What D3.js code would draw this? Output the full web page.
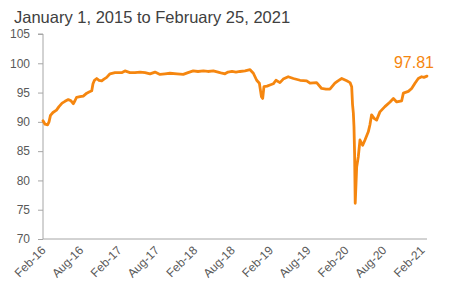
<!DOCTYPE html>
<html><head><meta charset="utf-8">
<script src="https://cdn.jsdelivr.net/npm/d3@7"></script>
<style>body{margin:0;background:#fff}svg{display:block}text{font-family:"Liberation Sans",Arial,sans-serif}</style>
</head><body>
<svg id="c" width="450" height="296"></svg>
<script>
const title = "January 1, 2015 to February 25, 2021";
const dates = ["2016-02-01","2016-02-11","2016-02-23","2016-03-01","2016-03-08","2016-03-20","2016-04-06","2016-04-18","2016-05-03","2016-05-17","2016-06-02","2016-06-15","2016-06-26","2016-07-04","2016-07-12","2016-07-28","2016-08-13","2016-08-30","2016-09-10","2016-09-23","2016-09-29","2016-10-06","2016-10-17","2016-10-28","2016-11-10","2016-11-21","2016-12-04","2016-12-20","2017-01-13","2017-02-14","2017-03-02","2017-03-26","2017-04-19","2017-05-14","2017-06-07","2017-07-01","2017-07-25","2017-08-18","2017-09-11","2017-10-05","2017-11-08","2017-12-08","2017-12-31","2018-01-25","2018-02-17","2018-03-15","2018-04-06","2018-05-02","2018-05-25","2018-06-13","2018-06-27","2018-07-12","2018-07-31","2018-08-19","2018-09-08","2018-10-02","2018-10-26","2018-11-11","2018-11-27","2018-12-10","2018-12-16","2018-12-20","2018-12-26","2019-01-01","2019-01-16","2019-01-30","2019-02-15","2019-02-28","2019-03-19","2019-04-04","2019-04-28","2019-05-23","2019-06-24","2019-07-26","2019-08-11","2019-09-12","2019-10-06","2019-10-27","2019-11-15","2019-12-09","2019-12-24","2020-01-11","2020-02-04","2020-02-20","2020-02-28","2020-03-03","2020-03-07","2020-03-10","2020-03-13","2020-03-16","2020-03-23","2020-03-31","2020-04-08","2020-04-21","2020-05-02","2020-05-18","2020-05-26","2020-06-03","2020-06-15","2020-06-27","2020-07-13","2020-08-06","2020-08-31","2020-09-16","2020-10-02","2020-10-26","2020-11-03","2020-11-27","2020-12-13","2020-12-29","2021-01-14","2021-01-30","2021-02-10","2021-02-25"];
const values = [90.2,89.6,89.5,90.0,91.1,91.6,92.0,92.6,93.2,93.5,93.8,93.6,93.1,93.6,94.2,94.3,94.4,94.9,95.1,95.3,96.5,97.1,97.4,97.1,97.0,97.3,97.6,98.2,98.4,98.4,98.7,98.4,98.4,98.5,98.4,98.2,98.5,98.1,98.2,98.3,98.2,98.1,98.4,98.7,98.6,98.7,98.6,98.7,98.5,98.3,98.2,98.5,98.6,98.5,98.6,98.7,98.9,98.3,97.1,96.6,95.2,94.3,94.0,96.0,96.1,96.3,96.5,97.1,96.7,97.3,97.7,97.4,97.1,97.0,96.6,96.7,95.7,95.6,95.6,96.6,97.0,97.4,97.0,96.7,96.0,93.0,91.5,89.2,84.6,76.1,82.3,84.1,86.9,86.0,86.9,88.3,89.5,91.2,90.6,90.3,91.7,92.6,93.4,94.0,93.4,93.6,94.9,95.2,95.7,96.6,97.4,97.7,97.6,97.81];
const yTicks = [70,75,80,85,90,95,100,105];
const xTickDates = ["2016-02-01","2016-08-01","2017-02-01","2017-08-01","2018-02-01","2018-08-01","2019-02-01","2019-08-01","2020-02-01","2020-08-01","2021-02-01"];
const endLabel = "97.81";

const parse = d3.timeParse("%Y-%m-%d");
const data = dates.map((d,i)=>({date:parse(d), v:values[i]}));
const svg = d3.select("#c");
const x = d3.scaleTime().domain([parse("2016-02-01"), parse("2021-02-25")]).range([43,427]);
const y = d3.scaleLinear().domain([70,105]).range([239,34]);
const grey="#a6a6a6", txt="#595959", orange="#f5860f";

svg.append("text").attr("x",14).attr("y",23).attr("font-size",16.5).attr("fill","#404040").text(title);

const ya = svg.append("g").attr("transform","translate(43,0)")
  .call(d3.axisLeft(y).tickValues(yTicks).tickSize(5).tickPadding(8));
ya.select(".domain").attr("stroke",grey).attr("d","M-5,34H0V239");
ya.selectAll(".tick line").attr("stroke",grey);
ya.selectAll(".tick text").attr("fill",txt).attr("font-size",12).attr("font-family","Liberation Sans, Arial, sans-serif");

const xa = svg.append("g").attr("transform","translate(0,239)")
  .call(d3.axisBottom(x).tickValues(xTickDates.map(parse)).tickFormat(d3.timeFormat("%b-%y")).tickSize(0).tickPadding(0));
xa.select(".domain").attr("stroke",grey).attr("d","M43,0H427");
xa.selectAll(".tick text").attr("fill",txt).attr("font-size",12).attr("font-family","Liberation Sans, Arial, sans-serif")
  .attr("text-anchor","end").attr("dy",null).attr("y",0)
  .attr("transform","translate(3,12) rotate(-45)");

const line = d3.line().x(d=>x(d.date)).y(d=>y(d.v));
svg.append("path").datum(data).attr("d",line).attr("fill","none").attr("stroke",orange)
  .attr("stroke-width",2.8).attr("stroke-linejoin","round").attr("stroke-linecap","round");

const last = data[data.length-1];
svg.append("text").attr("x",x(last.date)+7).attr("y",y(last.v)-8).attr("text-anchor","end")
  .attr("font-size",16).attr("fill",orange).text(endLabel);
</script>
</body></html>
